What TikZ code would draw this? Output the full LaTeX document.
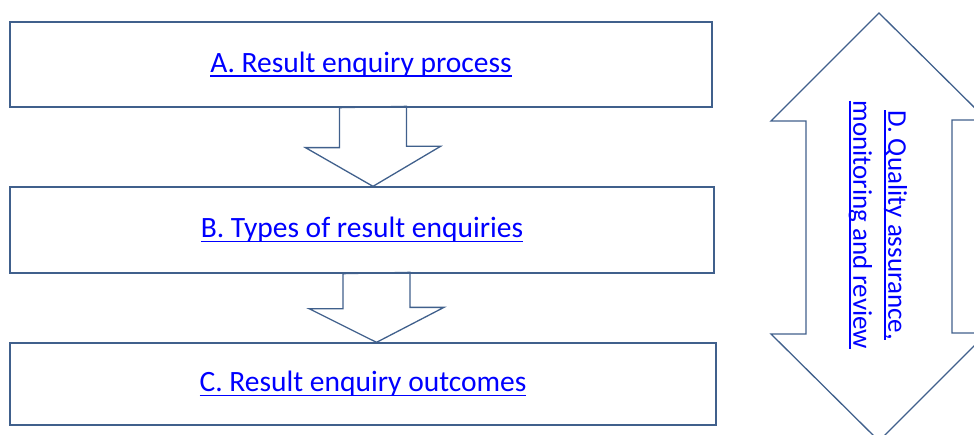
\documentclass[tikz,border=0pt]{standalone}
\usepackage{fontspec}
\setmainfont{Carlito}
\usetikzlibrary{positioning}
\definecolor{boxline}{RGB}{64,96,140}
\definecolor{linkblue}{RGB}{0,0,255}
\newsavebox{\linkbox}
\newcommand{\link}[1]{\sbox{\linkbox}{#1}\rlap{\rule[-4.5pt]{\wd\linkbox}{1.6pt}}\usebox{\linkbox}}

\begin{document}
\begin{tikzpicture}[
    x=1pt, y=1pt,
    box/.style={%
      draw=boxline,
      line width=1.3pt,
      rectangle,
      inner sep=0pt,
      text=linkblue,
      font=\fontsize{29.5}{35}\selectfont,
    },
    blockarrow/.style={%
      draw=boxline,
      line width=1.3pt,
      line join=miter,
    },
    label/.style={%
      inner sep=0pt,
      text=linkblue,
      align=center,
      font=\fontsize{27}{35}\selectfont,
    },
  ]
    \useasboundingbox (0,0) rectangle (974,434);
    \clip (0,0) rectangle (974,434);

    \node [box, minimum width=702pt, minimum height=85pt] (A) at (361,369.5) {\link{A. Result enquiry process}};
    \node [box, minimum width=704pt, minimum height=86pt] (B) at (362,204) {\link{B. Types of result enquiries}};
    \node [box, minimum width=706pt, minimum height=82pt] (C) at (363,50) {\link{C. Result enquiry outcomes}};

    % block arrows between the boxes
    \path (A.south) ++(12,0) coordinate (a1);
    \draw [blockarrow] (a1) ++(-33.5,0) -- ++(0,-40) -- ++(-34,0) -- (B.north -| a1)
      -- ++(67.5,40) -- ++(-34,0) -- ++(0,40) -- cycle;
    \path (B.south) ++(14.5,0) coordinate (a2);
    \draw [blockarrow] (a2) ++(-33.5,0) -- ++(0,-35) -- ++(-34,0) -- (C.north -| a2)
      -- ++(67.5,35) -- ++(-34,0) -- ++(0,35) -- cycle;

    % double arrow on the right
    \coordinate (D0) at (879,207);
    \path (D0) ++(0,214) coordinate (Dtop);
    \path (D0) ++(0,-214) coordinate (Dbot);
    \draw [blockarrow] (Dtop) -- ++(108,-107) -- ++(-35,0) -- ++(0,-213) -- ++(35,0)
      -- (Dbot) -- ++(-108,107) -- ++(35,0) -- ++(0,213) -- ++(-35,0) -- cycle;
    \node [label, rotate=-90] (D) at (878,209) {\link{D. Quality assurance,}\\\link{monitoring and review}};
\end{tikzpicture}
\end{document}
